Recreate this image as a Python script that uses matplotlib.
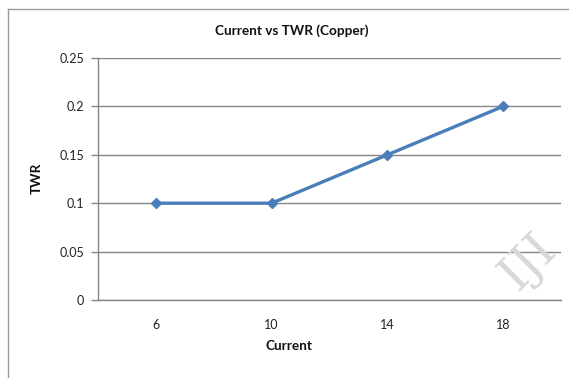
import matplotlib
matplotlib.use("Agg")
import matplotlib.pyplot as plt
from matplotlib.lines import Line2D

plt.rcParams['font.family'] = ['Lato', 'DejaVu Sans']

categories = ["6", "10", "14", "18"]
twr = [0.1, 0.1, 0.15, 0.2]
y_ticks = [0, 0.05, 0.1, 0.15, 0.2, 0.25]
y_tick_labels = ["0", "0.05", "0.1", "0.15", "0.2", "0.25"]

W, H = 569, 378
fig = plt.figure(figsize=(W / 100, H / 100), dpi=100)
fig.patch.set_facecolor("white")

# plot area in pixel coordinates
left, right, top, bottom = 98, 561, 58, 300
ax = fig.add_axes([left / W, 1 - bottom / H, (right - left) / W, (bottom - top) / H])

x = list(range(len(categories)))
ax.plot(x, twr, color="#4A7EBB", lw=2.4, marker="D", ms=5.5,
        markerfacecolor="#4A7EBB", markeredgecolor="#4A7EBB", zorder=3,
        solid_capstyle="round")

ax.set_xlim(-0.5, len(categories) - 0.5)
ax.set_ylim(0, 0.25)
ax.set_yticks(y_ticks)
ax.set_yticklabels(y_tick_labels)
ax.set_xticks(x)
ax.set_xticklabels(categories)
ax.yaxis.grid(True, color="#868686", lw=1.0)
ax.set_axisbelow(True)

for s in ["top", "right"]:
    ax.spines[s].set_visible(False)
for s in ["left", "bottom"]:
    ax.spines[s].set_color("#868686")
    ax.spines[s].set_linewidth(1.0)

ax.tick_params(axis="y", length=5, width=1.0, color="#868686", labelsize=9,
               labelcolor="#222222", pad=5)
ax.tick_params(axis="x", length=0, labelsize=9, labelcolor="#222222", pad=14)

fig.text(292 / W, 1 - 31 / H, "Current vs TWR (Copper)", ha="center", va="center",
         fontsize=9.8, fontweight="bold", color="#111111")
fig.text(37 / W, 1 - 178 / H, "TWR", ha="center", va="center", rotation=90,
         fontsize=9.8, fontweight="bold", color="#111111")
fig.text(289 / W, 1 - 346 / H, "Current", ha="center", va="center",
         fontsize=9.8, fontweight="bold", color="#111111")

# outer chart frame
fig.add_artist(Line2D([8 / W, 8 / W], [0, 1 - 9 / H], transform=fig.transFigure,
                      color="#9A9A9A", lw=1.0))
fig.add_artist(Line2D([8 / W, 1], [1 - 9 / H, 1 - 9 / H], transform=fig.transFigure,
                      color="#9A9A9A", lw=1.0))

# faint watermark
fig.text(528 / W, 1 - 262 / H, "IJI", ha="center", va="center", rotation=45,
         fontsize=35, family="DejaVu Serif", color="#D8D8D8", zorder=5)

fig.savefig("out.png", dpi=100)
